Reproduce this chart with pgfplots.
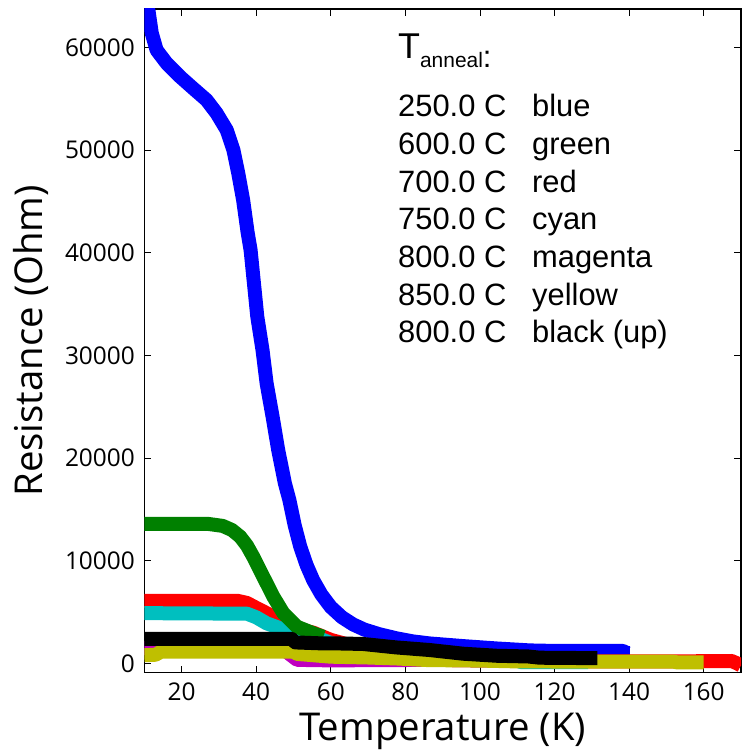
\documentclass[border=0pt]{standalone}
\usepackage{fontspec}
\setmainfont{Open Sans}
\newfontfamily\lsans{Liberation Sans}
\usepackage{pgfplots}
\pgfplotsset{compat=1.18}
\definecolor{mplgreen}{RGB}{0,128,0}
\definecolor{mplcyan}{RGB}{0,191,191}
\definecolor{mplmagenta}{RGB}{191,0,191}
\definecolor{mplyellow}{RGB}{191,191,0}

\begin{document}
\begin{tikzpicture}
\useasboundingbox (-144.3bp,-78.3bp) rectangle (598.7bp,672.7bp);
\begin{axis}[
    at={(0,0)}, anchor=south west,
    scale only axis, width=596.7bp, height=663.7bp,
    xmin=10, xmax=170, ymin=-900, ymax=63750,
    xtick={20,40,...,160},
    ytick={0,10000,...,60000},
    scaled y ticks=false,
    tick align=inside, tick pos=both,
    major tick length=7bp,
    every tick/.style={black, line width=0.8bp},
    axis line style={line width=1.2bp},
    tick label style={font=\fontsize{24.5}{24.5}\selectfont, inner sep=0pt},
    yticklabel style={anchor=east, xshift=-9.3bp, /pgf/number format/1000 sep={}},
    xticklabel style={anchor=north, yshift=-10.3bp},
    /pgf/number format/assume math mode=true,
    xlabel={Temperature (K)}, ylabel={Resistance (Ohm)},
    label style={font=\fontsize{38.5}{38.5}\selectfont, inner sep=0pt},
    xlabel style={at={(axis description cs:0.5,0)}, anchor=base, yshift=-67.3bp},
    ylabel style={at={(axis description cs:-0.1698,0.5)}, anchor=base},
    every axis plot/.append style={no marks, line width=14bp, line join=round, line cap=butt},
]
% 250 C
\addplot[blue] coordinates {
(10,64000) (11.1,63650) (12,61400) (13.3,59750) (16,58460) (19.6,57150)
(23.1,56020) (26.7,54880) (29.4,53590) (32.1,51960) (33.9,50010) (35.2,47740)
(36.5,45140) (37.7,42000) (38.5,40270) (39.4,37030) (40.3,33780) (41.7,30530)
(42.8,27290) (44.4,24040) (45.9,20800) (47.7,17550) (48.9,15920) (50.3,13500)
(51.8,11400) (53.5,9600) (55.3,8100) (57.5,6700) (60,5500) (63,4500) (66,3800)
(69,3300) (73,2850) (77.6,2450) (82,2150) (86.5,1950) (95.5,1690) (104.5,1460)
(113.4,1270) (120,1220) (138.3,1220) (139.5,1000) (140.2,1000)
};
% 700 C
\addplot[red] coordinates {
(10,6100) (35,6100) (37.5,5900) (40.1,5400) (42.8,4900) (47.3,4070) (51.7,3330)
(55.3,3000) (60,2300) (70,1300) (80,700) (90,350) (110,250) (130,200) (152,200)
(167.5,240) (169,0) (170,-200)
};
% 750 C
\addplot[mplcyan] coordinates {
(10,4900) (37.5,4850) (40,4500) (42.8,3910) (46.4,3430) (50.9,3050) (55,2700)
(60,2000) (70,900) (80,600) (90,450) (100,350) (110,300) (111,130) (129,130)
};
% 800 C
\addplot[mplmagenta] coordinates {
(10,1500) (47,1500) (49,900) (51,350) (60,300) (75,330) (90,350) (110,250)
};
% 600 C
\addplot[mplgreen] coordinates {
(10,13600) (27,13600) (31,13400) (33.5,13000) (35.7,12350) (37.5,11500)
(39.2,10400) (41.9,8450) (44.6,6510) (47.3,4890) (50.9,3590) (55.3,2940) (58,2600)
};
% 850 C
\addplot[mplyellow] coordinates {
(10,800) (13,850) (14.5,1150) (50,1150) (51,930) (60,660) (70,580) (78,480)
(86,330) (100,280) (110,200) (130,180) (152,170) (153,100) (160,100)
};
% 800 C, up
\addplot[black] coordinates {
(10,2390) (49.5,2390) (50.5,2050) (58,1950) (62,1950) (68.6,1900) (77.6,1560)
(86.5,1310) (95.5,950) (104.5,750) (113,680) (116,560) (130,520) (131.5,520)
};
\end{axis}
\begin{scope}[every node/.style={anchor=base west, inner sep=0pt, font=\lsans\fontsize{31}{31}\selectfont}]
\node at (253.7bp,613.7bp) {\fontsize{36}{36}\selectfont T\raisebox{-9bp}{\fontsize{21}{21}\selectfont anneal}\raisebox{-9bp}{\fontsize{31}{31}\selectfont :}};
\node at (253.7bp,555.7bp) {\makebox[134bp][l]{250.0 C}blue};
\node at (253.7bp,518.0bp) {\makebox[134bp][l]{600.0 C}green};
\node at (253.7bp,480.3bp) {\makebox[134bp][l]{700.0 C}red};
\node at (253.7bp,442.7bp) {\makebox[134bp][l]{750.0 C}cyan};
\node at (253.7bp,405.0bp) {\makebox[134bp][l]{800.0 C}magenta};
\node at (253.7bp,367.3bp) {\makebox[134bp][l]{850.0 C}yellow};
\node at (253.7bp,329.7bp) {\makebox[134bp][l]{800.0 C}black (up)};
\end{scope}
\end{tikzpicture}
\end{document}
